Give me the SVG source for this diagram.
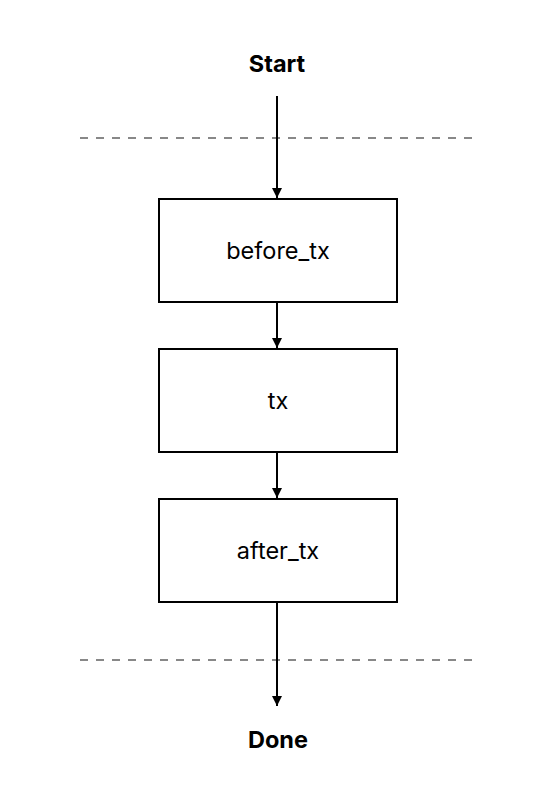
<svg xmlns="http://www.w3.org/2000/svg" width="558" height="802" viewBox="0 0 558 802">
<style>
.box{fill:#fff;stroke:#000;stroke-width:2}
.lbl{font-family:Inter,"Liberation Sans",sans-serif;font-size:23.5px;fill:#000;text-anchor:middle}
.term{font-family:Inter,"Liberation Sans",sans-serif;font-size:23.5px;font-weight:bold;fill:#000;text-anchor:middle}
.edge{stroke:#000;stroke-width:2;fill:none;marker-end:url(#ah)}
.sep{stroke:#888;stroke-width:2;stroke-dasharray:8 8}
</style>
<defs>
<marker id="ah" viewBox="0 0 10 10" refX="10" refY="5" markerWidth="5" markerHeight="5" orient="auto" markerUnits="strokeWidth">
<path d="M0,0 L10,5 L0,10 z" fill="#000"/>
</marker>
</defs>
<rect width="558" height="802" fill="#fff"/>
<g id="separators">
<line class="sep" x1="80" y1="138" x2="477" y2="138"/>
<line class="sep" x1="80" y1="660" x2="477" y2="660"/>
</g>
<g id="connectors">
<line class="edge" x1="277" y1="96" x2="277" y2="198"/>
<line class="edge" x1="277" y1="303" x2="277" y2="348"/>
<line class="edge" x1="277" y1="453" x2="277" y2="498"/>
<line class="edge" x1="277" y1="603" x2="277" y2="706"/>
</g>
<g id="start"><text class="term" x="277" y="72">Start</text></g>
<g id="before_tx"><rect class="box" x="159" y="199" width="238" height="103"/><text class="lbl" x="278" y="259">before_tx</text></g>
<g id="tx"><rect class="box" x="159" y="349" width="238" height="103"/><text class="lbl" x="278" y="409">tx</text></g>
<g id="after_tx"><rect class="box" x="159" y="499" width="238" height="103"/><text class="lbl" x="278" y="559">after_tx</text></g>
<g id="done"><text class="term" x="278" y="748">Done</text></g>
</svg>
